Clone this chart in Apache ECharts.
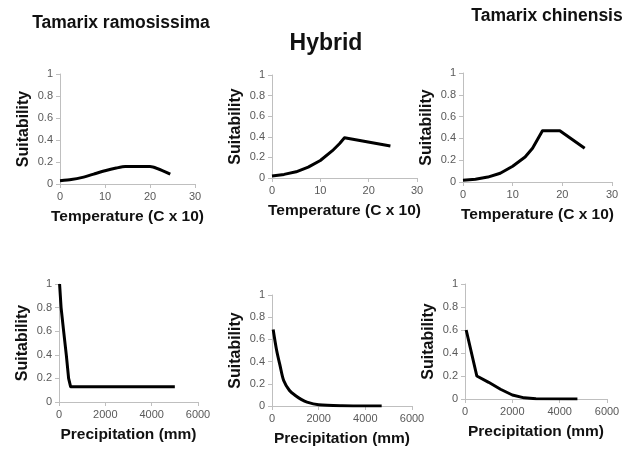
<!DOCTYPE html>
<html>
<head>
<meta charset="utf-8">
<script src="https://cdn.jsdelivr.net/npm/echarts@6/dist/echarts.min.js"></script>
<style>
  html, body { margin: 0; padding: 0; background: #fff; }
  #chart { width: 637px; height: 449px; }
</style>
</head>
<body>
<div id="chart"></div>
<script>
// species titles
var speciesTitles = ['Tamarix ramosissima', 'Hybrid', 'Tamarix chinensis'];

// response curves: [x, suitability]
var tempRamosissima = [[0, 0.03], [2.5, 0.04], [5, 0.06], [7.5, 0.09], [10, 0.12], [12.5, 0.145], [14.5, 0.16], [20, 0.16], [24.5, 0.09]];
var tempHybrid = [[0, 0.02], [2.5, 0.035], [5, 0.06], [7.5, 0.105], [10, 0.17], [12.5, 0.265], [14, 0.335], [15, 0.39], [24.5, 0.31]];
var tempChinensis = [[0, 0.015], [2.5, 0.025], [5, 0.045], [7.5, 0.08], [10, 0.145], [12.5, 0.23], [14, 0.31], [16, 0.47], [19.5, 0.47], [24.5, 0.31]];
var precipRamosissima = [[25, 1.0], [90, 0.8], [200, 0.6], [315, 0.4], [415, 0.2], [500, 0.13], [5000, 0.13]];
var precipHybrid = [[50, 0.69], [200, 0.5], [350, 0.36], [500, 0.23], [750, 0.14], [1000, 0.095], [1250, 0.06], [1500, 0.035], [2000, 0.012], [3000, 0.003], [4700, 0]];
var precipChinensis = [[50, 0.6], [500, 0.2], [1000, 0.145], [1500, 0.085], [2000, 0.035], [2500, 0.01], [3000, 0.003], [4750, 0]];

var tempName = 'Temperature (C x 10)';
var precipName = 'Precipitation (mm)';
var yName = 'Suitability';

var panels = [
  { data: tempRamosissima, smooth: 0.2, xName: tempName, xMax: 30, xStep: 10, grid: { left: 60, top: 74, width: 135, height: 110 } },
  { data: tempHybrid, smooth: false, xName: tempName, xMax: 30, xStep: 10, grid: { left: 272, top: 75, width: 145, height: 103 } },
  { data: tempChinensis, smooth: false, xName: tempName, xMax: 30, xStep: 10, grid: { left: 463, top: 73, width: 149, height: 109 } },
  { data: precipRamosissima, smooth: false, xName: precipName, xMax: 6000, xStep: 2000, grid: { left: 59, top: 284, width: 139, height: 118 } },
  { data: precipHybrid, smooth: 0.3, xName: precipName, xMax: 6000, xStep: 2000, grid: { left: 272, top: 295, width: 140, height: 111 } },
  { data: precipChinensis, smooth: false, xName: precipName, xMax: 6000, xStep: 2000, grid: { left: 465, top: 284, width: 142, height: 115 } }
];

var axisColor = '#bfbfbf';
var labelColor = '#595959';
var fontFam = '"Liberation Sans", Arial, sans-serif';

var grids = [], xAxes = [], yAxes = [], series = [];
panels.forEach(function (p, i) {
  grids.push(p.grid);
  xAxes.push({
    type: 'value', gridIndex: i, min: 0, max: p.xMax, interval: p.xStep,
    name: p.xName, nameLocation: 'middle', nameGap: 25,
    nameTextStyle: { color: '#111', fontSize: 15.5, fontWeight: 'bold', fontFamily: fontFam },
    axisLine: { show: true, lineStyle: { color: axisColor, width: 1 } },
    axisTick: { show: true, length: 4, lineStyle: { color: axisColor } },
    axisLabel: { color: labelColor, fontSize: 11, margin: 7, fontFamily: fontFam, formatter: function (v) { return String(v); } },
    splitLine: { show: false }
  });
  yAxes.push({
    type: 'value', gridIndex: i, min: 0, max: 1, interval: 0.2,
    name: yName, nameLocation: 'middle', nameGap: 28,
    nameTextStyle: { color: '#111', fontSize: 16, fontWeight: 'bold', fontFamily: fontFam },
    axisLine: { show: true, lineStyle: { color: axisColor, width: 1 } },
    axisTick: { show: true, length: 4, lineStyle: { color: axisColor } },
    axisLabel: { color: labelColor, fontSize: 11, margin: 7, fontFamily: fontFam },
    splitLine: { show: false }
  });
  series.push({
    type: 'line', xAxisIndex: i, yAxisIndex: i, data: p.data,
    showSymbol: false, smooth: p.smooth, silent: true,
    lineStyle: { color: '#000', width: 3, join: 'round' }
  });
});

var titleText = function (txt, x, y, size) {
  return {
    type: 'text', x: x, y: y,
    style: { text: txt, fill: '#111', font: 'bold ' + size + 'px ' + fontFam, textAlign: 'center', textVerticalAlign: 'middle' }
  };
};

var myChart = echarts.init(document.getElementById('chart'));
myChart.setOption({
  backgroundColor: '#fff',
  animation: false,
  grid: grids,
  xAxis: xAxes,
  yAxis: yAxes,
  series: series,
  graphic: [
    titleText(speciesTitles[0], 121, 23, 17.5),
    titleText(speciesTitles[1], 326, 44, 23),
    titleText(speciesTitles[2], 547, 16, 17.5)
  ]
});
</script>
</body>
</html>
